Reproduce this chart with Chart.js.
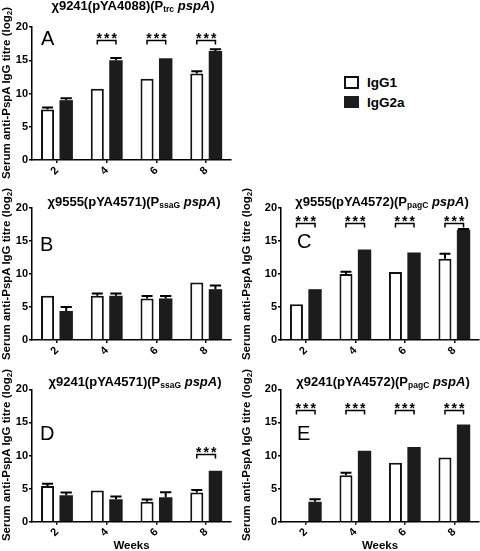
<!DOCTYPE html>
<html><head><meta charset="utf-8">
<script src="https://cdn.jsdelivr.net/npm/chart.js@4.4.1/dist/chart.umd.min.js"></script>
<style>
html,body{margin:0;padding:0;background:#fff;}
body{width:480px;height:551px;position:relative;overflow:hidden;font-family:'Liberation Sans',Arial,Helvetica,sans-serif;color:#000;}
canvas{position:absolute;}
.ttl{position:absolute;width:240px;text-align:center;font-weight:bold;font-size:13px;line-height:13px;white-space:nowrap;}
.ttl sub{font-size:8.5px;line-height:0;vertical-align:-2px;}
.let{position:absolute;font-size:20px;line-height:20px;}
.yt{position:absolute;width:220px;text-align:center;font-weight:bold;font-size:11.5px;line-height:12px;white-space:nowrap;transform:rotate(-90deg);transform-origin:50% 50%;}
.yt sub{font-size:8px;line-height:0;vertical-align:-2px;}
.lgbox{position:absolute;box-sizing:border-box;}
.lgtxt{position:absolute;font-weight:bold;font-size:13.5px;line-height:13.5px;}
</style>
</head><body>
<canvas id="cA"></canvas>
<canvas id="cB"></canvas>
<canvas id="cC"></canvas>
<canvas id="cD"></canvas>
<canvas id="cE"></canvas>

<div class="ttl" style="left:13px;top:-1px">χ9241(pYA4088)(P<sub>trc</sub> <i>pspA</i>)</div>
<div class="ttl" style="left:14px;top:195px">χ9555(pYA4571)(P<sub>ssaG</sub> <i>pspA</i>)</div>
<div class="ttl" style="left:262px;top:195px">χ9555(pYA4572)(P<sub>pagC</sub> <i>pspA</i>)</div>
<div class="ttl" style="left:15px;top:375px">χ9241(pYA4571)(P<sub>ssaG</sub> <i>pspA</i>)</div>
<div class="ttl" style="left:263px;top:375px">χ9241(pYA4572)(P<sub>pagC</sub> <i>pspA</i>)</div>

<div class="let" style="left:41px;top:28px">A</div>
<div class="let" style="left:40px;top:234px">B</div>
<div class="let" style="left:297px;top:231px">C</div>
<div class="let" style="left:40px;top:423px">D</div>
<div class="let" style="left:297px;top:423px">E</div>

<div class="yt" style="left:-104px;top:87px">Serum anti-PspA IgG titre (log<sub>2</sub>)</div>
<div class="yt" style="left:-104px;top:268px">Serum anti-PspA IgG titre (log<sub>2</sub>)</div>
<div class="yt" style="left:136px;top:268px">Serum anti-PspA IgG titre (log<sub>2</sub>)</div>
<div class="yt" style="left:-104px;top:449px">Serum anti-PspA IgG titre (log<sub>2</sub>)</div>
<div class="yt" style="left:136px;top:449px">Serum anti-PspA IgG titre (log<sub>2</sub>)</div>

<div class="lgbox" style="left:344px;top:76px;width:15px;height:13px;border:2px solid #111;background:#fff"></div>
<div class="lgtxt" style="left:367px;top:76px">IgG1</div>
<div class="lgbox" style="left:344px;top:96px;width:15px;height:12px;background:#1c1c1c"></div>
<div class="lgtxt" style="left:367px;top:95.5px">IgG2a</div>

<script>
// ---- data ----
const weeks = ['2', '4', '6', '8'];
const seriesNames = ['IgG1', 'IgG2a'];
const yTicks = [0, 5, 10, 15, 20];

const igg1A = [7.6, 10.7, 12.2, 13.0];
const igg2aA = [9.0, 15.0, 15.3, 16.4];
const errIgg1A = [0.3, 0, 0, 0.35];
const errIgg2aA = [0.3, 0.35, 0, 0.25];
const sigA = [false, true, true, true];

const igg1B = [6.7, 6.7, 6.3, 8.7];
const igg2aB = [4.4, 6.7, 6.3, 7.7];
const errIgg1B = [0, 0.35, 0.35, 0];
const errIgg2aB = [0.6, 0.35, 0.35, 0.55];
const sigB = [false, false, false, false];

const igg1C = [5.4, 10.0, 10.3, 12.3];
const igg2aC = [7.7, 13.7, 13.25, 16.7];
const errIgg1C = [0, 0.35, 0, 0.75];
const errIgg2aC = [0, 0, 0, 0.1];
const sigC = [true, true, true, true];

const igg1D = [5.4, 4.7, 3.0, 4.4];
const igg2aD = [4.0, 3.4, 3.7, 7.7];
const errIgg1D = [0.35, 0, 0.35, 0.4];
const errIgg2aD = [0.4, 0.4, 0.75, 0];
const sigD = [false, false, false, true];

const igg1E = [0, 7.0, 8.9, 9.7];
const igg2aE = [3.0, 10.7, 11.3, 14.7];
const errIgg1E = [0, 0.4, 0, 0];
const errIgg2aE = [0.4, 0, 0, 0];
const sigE = [true, true, true, true];

// ---- drawing ----
const FONT = "'Liberation Sans', Arial, Helvetica, sans-serif";

function marksPlugin(errs, sig, level) {
  return {
    id: 'marks',
    afterDatasetsDraw(chart) {
      const ctx = chart.ctx;
      const ys = chart.scales.y;
      ctx.save();
      ctx.strokeStyle = '#000';
      ctx.lineWidth = 2;
      // error bars (upper only)
      errs.forEach((errArr, di) => {
        const meta = chart.getDatasetMeta(di);
        meta.data.forEach((bar, j) => {
          const e = errArr[j];
          const v = chart.data.datasets[di].data[j];
          if (!e) return;
          const top = ys.getPixelForValue(v + e);
          const half = bar.width * 0.42;
          ctx.beginPath();
          ctx.moveTo(bar.x, bar.y);
          ctx.lineTo(bar.x, top);
          ctx.moveTo(bar.x - half, top);
          ctx.lineTo(bar.x + half, top);
          ctx.stroke();
        });
      });
      // significance brackets
      const m0 = chart.getDatasetMeta(0), m1 = chart.getDatasetMeta(1);
      ctx.lineWidth = 1.5;
      ctx.fillStyle = '#000';
      ctx.font = 'bold 14px ' + FONT;
      ctx.textAlign = 'center';
      ctx.textBaseline = 'alphabetic';
      const tm = ctx.measureText('*');
      const asc = tm.actualBoundingBoxAscent, desc = tm.actualBoundingBoxDescent;
      sig.forEach((s, j) => {
        if (!s) return;
        const x1 = m0.data[j].x, x2 = m1.data[j].x;
        const y = Math.round(ys.getPixelForValue(level)) + 0.5;
        ctx.beginPath();
        ctx.moveTo(x1, y + 4);
        ctx.lineTo(x1, y);
        ctx.lineTo(x2, y);
        ctx.lineTo(x2, y + 4);
        ctx.stroke();
        const mid = (x1 + x2) / 2;
        const centerY = y - 5;
        const base = centerY - (desc - asc) / 2;
        [-7.5, 0, 7.5].forEach(dx => ctx.fillText('*', mid + dx, base));
      });
      ctx.restore();
    }
  };
}

function makePanel(id, box, area, d1, d2, errs, sig, level, showWeeks) {
  const cv = document.getElementById(id);
  cv.style.left = box.x + 'px';
  cv.style.top = box.y + 'px';
  cv.width = box.w; cv.height = box.h;
  cv.style.width = box.w + 'px'; cv.style.height = box.h + 'px';
  return new Chart(cv, {
    type: 'bar',
    data: {
      labels: weeks,
      datasets: [
        { label: seriesNames[0], data: d1, backgroundColor: '#ffffff', borderColor: '#111', borderWidth: 2,
          categoryPercentage: 0.75, barPercentage: 0.7 },
        { label: seriesNames[1], data: d2, backgroundColor: '#1c1c1c', borderColor: '#1c1c1c', borderWidth: 0,
          categoryPercentage: 0.75, barPercentage: 0.72 }
      ]
    },
    options: {
      responsive: false,
      animation: false,
      devicePixelRatio: 1,
      layout: { padding: { left: 0, top: area.top, right: box.w - area.right, bottom: 0 } },
      plugins: { legend: { display: false }, tooltip: { enabled: false }, title: { display: false } },
      scales: {
        x: {
          type: 'category',
          grid: { display: true, drawOnChartArea: false, drawTicks: true, tickLength: 3, offset: false, color: '#000', lineWidth: 1.5 },
          border: { display: true, color: '#000', width: 1.5 },
          ticks: { color: '#000', font: { family: FONT, size: 11, weight: 'bold' }, minRotation: 45, maxRotation: 45, autoSkip: false, padding: 1 },
          title: { display: showWeeks, text: 'Weeks', color: '#000', font: { family: FONT, size: 11.5, weight: 'bold', lineHeight: 1 }, padding: { top: 0, bottom: -1 } },
          afterFit(s) { s.height = box.h - area.bottom; }
        },
        y: {
          min: 0, max: 20,
          afterBuildTicks(s) { s.ticks = yTicks.map(v => ({ value: v })); },
          grid: { display: true, drawOnChartArea: false, drawTicks: true, tickLength: 3, color: '#000', lineWidth: 1.5 },
          border: { display: true, color: '#000', width: 1.5 },
          ticks: { color: '#000', font: { family: FONT, size: 11, weight: 'bold' }, padding: 1 },
          afterFit(s) { s.width = area.left; }
        }
      }
    },
    plugins: [marksPlugin(errs, sig, level)]
  });
}

makePanel('cA', { x: 0, y: 0, w: 240, h: 190 }, { left: 32, right: 231, top: 27, bottom: 160 },
  igg1A, igg2aA, [errIgg1A, errIgg2aA], sigA, 18.1, false);
makePanel('cB', { x: 0, y: 185, w: 240, h: 180 }, { left: 32, right: 231, top: 23, bottom: 155 },
  igg1B, igg2aB, [errIgg1B, errIgg2aB], sigB, 18, false);
makePanel('cC', { x: 240, y: 185, w: 240, h: 180 }, { left: 41, right: 239, top: 23, bottom: 155 },
  igg1C, igg2aC, [errIgg1C, errIgg2aC], sigC, 17.8, false);
makePanel('cD', { x: 0, y: 365, w: 240, h: 186 }, { left: 32, right: 231, top: 24.3, bottom: 156.7 },
  igg1D, igg2aD, [errIgg1D, errIgg2aD], sigD, 10.2, true);
makePanel('cE', { x: 240, y: 365, w: 240, h: 186 }, { left: 41, right: 239, top: 24.3, bottom: 156.7 },
  igg1E, igg2aE, [errIgg1E, errIgg2aE], sigE, 16.8, true);
</script>
</body></html>
